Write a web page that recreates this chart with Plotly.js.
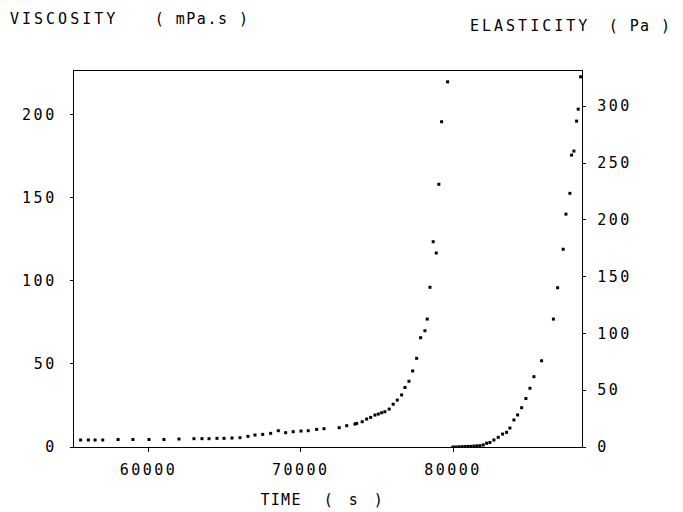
<!DOCTYPE html>
<html>
<head>
<meta charset="utf-8">
<script src="https://cdn.plot.ly/plotly-3.0.1.min.js"></script>
<style>
  html, body { margin: 0; padding: 0; background: #fff; }
  #chart { width: 683px; height: 512px; }
  .xtick text, .ytick text, .y2tick text { letter-spacing: 2.5px; }
  .annotation-text { letter-spacing: 3px; }
  .annotation[data-index="1"] .annotation-text { letter-spacing: 1.5px; }
  .annotation[data-index="3"] .annotation-text { letter-spacing: 1.4px; }
  .annotation[data-index="4"] .annotation-text { letter-spacing: 1.3px; }
  .annotation[data-index="5"] .annotation-text { letter-spacing: 3.5px; }
</style>
</head>
<body>
<div id="chart"></div>
<script>
// Viscosity (mPa.s) vs time (s) – left axis
const viscTime = [55545, 56049, 56492, 56995, 58002, 58979, 60037, 61013, 62000, 62987,
  63511, 63974, 64498, 64961, 65485, 66008, 66532, 66995, 67499, 68023,
  68526, 69009, 69503, 70017, 70490, 71044, 71527, 72524, 73018, 73561,
  73672, 74035, 74327, 74589, 74871, 75092, 75314, 75525, 75807, 76069,
  76341, 76623, 76844, 77106, 77348, 77610, 77872, 78154, 78305, 78486,
  78697, 78899, 79070, 79251, 79644];
const viscosity = [4.2, 4.2, 4.2, 4.2, 4.5, 4.5, 4.5, 4.5, 4.8, 5.0,
  5.0, 5.0, 5.2, 5.2, 5.4, 5.6, 6.4, 7.2, 7.6, 8.2,
  9.8, 8.6, 9.2, 9.6, 9.8, 10.6, 11.0, 11.6, 12.8, 13.8,
  14.2, 15.2, 16.8, 17.8, 19.2, 19.8, 20.6, 21.2, 22.8, 25.7,
  28.2, 31.3, 35.8, 39.5, 45.7, 53.3, 65.7, 69.9, 76.9, 96.0,
  123.4, 116.6, 157.9, 195.5, 219.5];

// Elasticity (Pa) vs time (s) – right axis
const elastTime = [79993, 80190, 80387, 80585, 80781, 80978, 81175, 81372, 81570, 81766,
  81982, 82206, 82422, 82685, 82967, 83256, 83519, 83736, 83999, 84241,
  84504, 84786, 85049, 85312, 85817, 86592, 86868, 87235, 87413, 87675,
  87787, 87938, 88115, 88220, 88378];
const elasticity = [0, 0, 0.2, 0.3, 0.4, 0.5, 0.6, 0.8, 1.0, 1.2,
  1.8, 3.3, 4.0, 6.2, 8.5, 11.4, 12.9, 16.7, 23.8, 28.2,
  34.6, 42.7, 51.7, 61.9, 75.9, 112.6, 140.2, 174.1, 205.0, 223.3,
  257.0, 260.5, 286.9, 297.4, 325.9];

// Tick labels
const xTickVals = [60000, 70000, 80000];
const xTickText = ["60000", "70000", "80000"];
const yLeftTickVals = [0, 50, 100, 150, 200];
const yLeftTickText = ["0", "50", "100", "150", "200"];
const yRightTickVals = [0, 50, 100, 150, 200, 250, 300];
const yRightTickText = ["0", "50", "100", "150", "200", "250", "300"];

const FONT = "DejaVu Sans Mono, Liberation Mono, monospace";

const traces = [
  {
    x: viscTime, y: viscosity, type: "scatter", mode: "markers",
    marker: { symbol: "square", size: 3, color: "#000" },
    yaxis: "y", showlegend: false, hoverinfo: "skip"
  },
  {
    x: elastTime, y: elasticity, type: "scatter", mode: "markers",
    marker: { symbol: "square", size: 3, color: "#000" },
    yaxis: "y2", showlegend: false, hoverinfo: "skip"
  }
];

const layout = {
  width: 683, height: 512,
  margin: { l: 74, r: 101, t: 71, b: 65, pad: 0 },
  paper_bgcolor: "#fff", plot_bgcolor: "#fff",
  font: { family: FONT, size: 15, color: "#000" },
  showlegend: false,
  xaxis: {
    range: [55108, 88470],
    tickvals: xTickVals, ticktext: xTickText,
    ticks: "outside", ticklen: 4, tickwidth: 1, tickcolor: "#000",
    showline: true, linecolor: "#000", linewidth: 1.3, mirror: true,
    showgrid: false, zeroline: false,
    ticklabelstandoff: 5,
    tickfont: { family: FONT, size: 15, color: "#000" }
  },
  yaxis: {
    range: [0, 226],
    tickvals: yLeftTickVals, ticktext: yLeftTickText,
    ticks: "outside", ticklen: 3, tickwidth: 1, tickcolor: "#000",
    showline: true, linecolor: "#000", linewidth: 1.3,
    showgrid: false, zeroline: false,
    ticklabelstandoff: 10,
    tickfont: { family: FONT, size: 15, color: "#000" }
  },
  yaxis2: {
    range: [0, 331],
    overlaying: "y", side: "right",
    tickvals: yRightTickVals, ticktext: yRightTickText,
    ticks: "outside", ticklen: 3, tickwidth: 1, tickcolor: "#000",
    showline: true, linecolor: "#000", linewidth: 1.3,
    showgrid: false, zeroline: false,
    ticklabelstandoff: 8,
    tickfont: { family: FONT, size: 15, color: "#000" }
  },
  annotations: [
    { text: "VISCOSITY", xref: "paper", yref: "paper", x: -0.1299, y: 1.138, xanchor: "left", yanchor: "middle", showarrow: false },
    { text: "( mPa.s )", xref: "paper", yref: "paper", x: 0.1417, y: 1.138, xanchor: "left", yanchor: "middle", showarrow: false },
    { text: "ELASTICITY", xref: "paper", yref: "paper", x: 0.7756, y: 1.1195, xanchor: "left", yanchor: "middle", showarrow: false },
    { text: "( Pa )", xref: "paper", yref: "paper", x: 1.0394, y: 1.1195, xanchor: "left", yanchor: "middle", showarrow: false },
    { text: "TIME", xref: "paper", yref: "paper", x: 0.3563, y: -0.141, xanchor: "left", yanchor: "middle", showarrow: false },
    { text: "( s )", xref: "paper", yref: "paper", x: 0.4902, y: -0.141, xanchor: "left", yanchor: "middle", showarrow: false }
  ]
};

Plotly.newPlot("chart", traces, layout, { staticPlot: true, displayModeBar: false });
</script>
</body>
</html>
